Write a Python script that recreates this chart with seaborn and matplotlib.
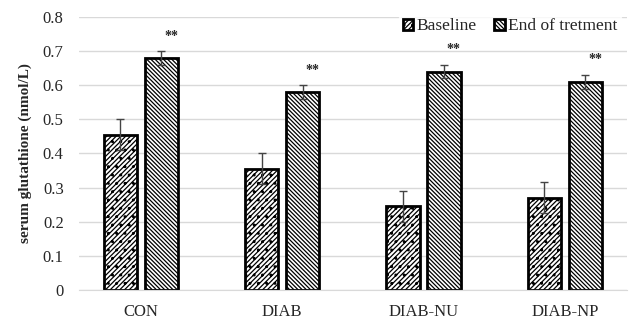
import seaborn as sns
import matplotlib.pyplot as plt
import pandas as pd

groups = ["CON", "DIAB", "DIAB-NU", "DIAB-NP"]
baseline = [0.455, 0.355, 0.245, 0.27]
baseline_err = [0.045, 0.045, 0.045, 0.045]
end_treat = [0.68, 0.58, 0.64, 0.61]
end_err = [0.02, 0.02, 0.02, 0.02]
series = ["Baseline", "End of tretment"]

df = pd.DataFrame({
    "group": groups * 2,
    "value": baseline + end_treat,
    "err": baseline_err + end_err,
    "series": [series[0]] * 4 + [series[1]] * 4,
})

sns.set_style("white")
plt.rcParams['font.family'] = ['Liberation Serif', 'DejaVu Serif']
plt.rcParams['hatch.linewidth'] = 0.9

fig = plt.figure(figsize=(6.34, 3.2), dpi=100)
ax = fig.add_axes([0.1246, 0.094, 0.864, 0.853])

sns.barplot(data=df, x="group", y="value", hue="series", ax=ax,
            palette=["white", "white"], edgecolor="black", linewidth=2,
            width=0.58, gap=0.19, errorbar=None)

# baseline: diagonal weave, end: dense back diagonal
hatches = ["///////..", "\\\\\\\\\\\\\\\\"]
bars = ax.patches[:8]
for i, p in enumerate(bars):
    p.set_hatch(hatches[i // 4])

# error bars and significance marks
for i, p in enumerate(bars):
    x = p.get_x() + p.get_width() / 2
    y = df["value"][i]
    e = df["err"][i]
    ax.errorbar(x, y, yerr=e, color="#444444", capsize=3, elinewidth=1, capthick=1, zorder=5)
    if i >= 4:
        ax.text(x + 0.07, y + e + 0.025, "**", ha="center", va="bottom", fontsize=10, fontweight="bold")

ax.set_ylim(0, 0.8)
ax.set_yticks([0, 0.1, 0.2, 0.3, 0.4, 0.5, 0.6, 0.7, 0.8])
ax.set_yticklabels(["0", "0.1", "0.2", "0.3", "0.4", "0.5", "0.6", "0.7", "0.8"])
ax.yaxis.grid(True, color="#d9d9d9", linewidth=1)
ax.set_axisbelow(True)
for s in ["top", "right", "left"]:
    ax.spines[s].set_visible(False)
ax.spines["bottom"].set_color("#d9d9d9")
ax.tick_params(axis="both", labelsize=12, length=0)
ax.tick_params(axis="y", pad=11)
ax.tick_params(axis="x", pad=10)
ax.set_xlabel("")
ax.set_ylabel("serum glutathione (nmol/L)", fontsize=11, fontweight="bold", labelpad=8)

handles, labels = ax.get_legend_handles_labels()
leg = ax.legend(handles, labels, loc="upper right", bbox_to_anchor=(1.005, 1.04), ncol=2, frameon=True,
                fontsize=12.5, handlelength=0.6, handleheight=0.6, handletextpad=0.2, columnspacing=1.0,
                borderpad=0.2)
leg.get_frame().set_edgecolor("white")
leg.get_frame().set_facecolor("white")
for h, hat in zip(leg.legend_handles, hatches):
    h.set_hatch(hat)

fig.savefig("out.png", dpi=100)
